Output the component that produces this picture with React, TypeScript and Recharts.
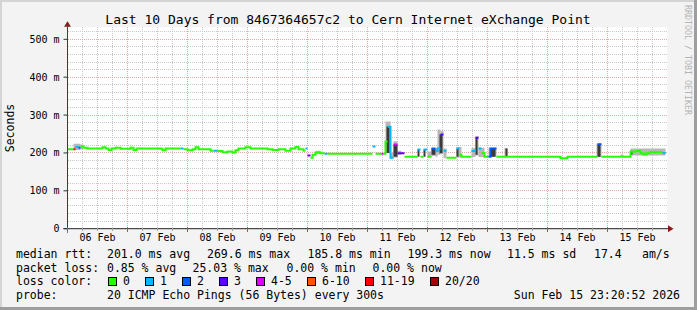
import React from 'react';
import { ComposedChart, Line, Area, XAxis, YAxis, ReferenceLine, CartesianGrid } from 'recharts';

// ---- data (time in hours since Feb 06 00:00, values in ms) ----
// [hour, median rtt ms, loss class index]
const medianRows: number[][] = [
  [0, 210, 0], [2.4, 210, 6], [3.2, 216, 1], [4.4, 214, 2], [5.2, 217, 0], [6.4, 214, 0],
  [8, 212, 0], [14, 215, 0], [15.2, 212, 0], [16.4, 208, 0], [17.6, 212, 0], [19.2, 214, 0],
  [21.2, 211, 0], [25.2, 214, 0], [26.4, 208, 0], [27.6, 212, 0], [37.2, 211, 0], [38, 207, 0],
  [39.2, 212, 0], [45.2, 212, 1], [46.4, 210, 0], [48, 207, 0], [50, 210, 0], [51.2, 215, 0],
  [52.4, 210, 0], [57.2, 206, 0], [58.4, 206, 1], [60, 205, 0], [62, 202, 0], [64, 204, 0],
  [66, 201, 0], [67.2, 207, 0], [68.4, 212, 0], [71.2, 215, 0], [73.2, 212, 0], [80, 210, 0],
  [82, 208, 0], [84.4, 210, 0], [87.2, 206, 0], [89.2, 212, 0], [91.2, 216, 0], [92.4, 210, 0],
  [94.4, 206, 0], [95.2, 212, 1], [96, 193, 3], [97.2, 187, 0], [98, 195, 0], [99.2, 201, 0],
  [101.2, 199, 0], [102.8, 198, 1], [104, 198, 0], [122, 217, 1], [123.2, 198, 0], [125.6, 198, 4],
  [126.4, 198, 0], [127.2, 230, 0], [128, 269, 1], [129.2, 187, 1], [130.4, 222, 4], [132, 199, 3],
  [133.6, 199, 3], [134.8, 190, 0], [140, 209, 1], [141.2, 190, 0], [142.4, 209, 1], [144, 190, 0],
  [145.6, 211, 2], [147.2, 205, 1], [148, 212, 1], [149.2, 249, 3], [150.4, 206, 1], [151.6, 187, 0],
  [155.6, 212, 1], [156.8, 195, 0], [157.6, 190, 0], [161.6, 205, 1], [163.2, 240, 3], [164.4, 212, 1],
  [165.6, 200, 0], [166.8, 190, 0], [168.4, 190, 2], [169.2, 212, 2], [171.6, 190, 0], [197.2, 186, 0],
  [200, 190, 0], [212, 223, 2], [213.6, 190, 0], [225.2, 203, 0], [227.2, 205, 0], [229.2, 199, 0],
  [230.4, 196, 0], [231.6, 199, 0], [232.8, 202, 0], [238, 200, 1], [239.2, 200, 0],
];
const END_HOUR = 239.35;

// smoke (ping spread): [hour start, hour end, low ms, high ms]
const smokeRows: number[][] = [
  [2.4, 5.2, 208, 224], [5.2, 6.4, 210, 222], [99.2, 101.2, 197, 206], [127.2, 129.2, 200, 283],
  [129.2, 130.4, 186, 200], [130.4, 132, 188, 231], [132, 133.6, 195, 206], [144, 145.6, 189, 204],
  [145.6, 147.2, 192, 215], [147.2, 148, 190, 213], [148, 149.2, 195, 262], [149.2, 150.4, 198, 258],
  [150.4, 151.6, 186, 212], [155.6, 157.6, 188, 216], [161.6, 163.2, 189, 213], [163.2, 164.4, 193, 244],
  [164.4, 166.8, 189, 214], [168.4, 171.6, 190, 214], [174.8, 176, 189, 213], [211.6, 213.6, 189, 225],
  [221.2, 222.4, 189, 196], [225.2, 239.2, 193, 212],
];
const coreRows: number[][] = [
  [127.6, 128.8, 200, 270], [130.4, 132, 190, 222], [140, 140.8, 190, 209], [142.4, 143.2, 190, 209],
  [145.6, 147.2, 195, 211], [148.8, 150, 199, 249], [155.6, 156.4, 190, 212], [163.2, 164, 195, 240],
  [169.2, 171.2, 190, 212], [175.2, 176, 190, 212], [212, 213.2, 190, 222], [225.2, 226, 196, 206],
];

const lossLabels = ['0', '1', '2', '3', '4-5', '6-10', '11-19', '20/20'];
const lossColors = ['#26ff00', '#00b8ff', '#0059ff', '#5e00ff', '#dd00ff', '#ff5500', '#ff0000', '#a10000'];
const lossBoxX = [108, 145, 182, 219, 256, 307, 365, 430];

const dayLabels = ['06 Feb', '07 Feb', '08 Feb', '09 Feb', '10 Feb', '11 Feb', '12 Feb', '13 Feb', '14 Feb', '15 Feb'];
const dayNoonHours = [12, 36, 60, 84, 108, 132, 156, 180, 204, 228];
const yTicks = [0, 100, 200, 300, 400, 500];
const Y_MAX = 531.7;

const statsRow1: [string, number][] = [
  ['median rtt:', 16], ['201.0 ms avg', 107], ['269.6 ms max', 207], ['185.8 ms min', 307.5],
  ['199.3 ms now', 407.5], ['11.5 ms sd', 507], ['17.4', 594], ['am/s', 642],
];
const statsRow2: [string, number][] = [
  ['packet loss:', 16], ['0.85 % avg', 107], ['25.03 % max', 192.5], ['0.00 % min', 286.5], ['0.00 % now', 372.5],
];

const FONT = '"DejaVu Sans Mono", monospace';

// grid values
const xMinor: number[] = [];
const xMajor: number[] = [];
for (let h = 6; h < 240; h += 6) (h % 24 === 0 ? xMajor : xMinor).push(h);
const yMinor: number[] = [];
const yMajor: number[] = [];
for (let v = 20; v <= 520; v += 20) (v % 100 === 0 ? yMajor : yMinor).push(v);

function buildClassLine(c: number) {
  const pts: { t: number; v: number | null }[] = [];
  for (let i = 0; i < medianRows.length; i++) {
    const [t, m, l] = medianRows[i];
    if (l !== c) continue;
    const tEnd = i + 1 < medianRows.length ? medianRows[i + 1][0] : END_HOUR;
    const prevSame = i > 0 && medianRows[i - 1][2] === c;
    if (!prevSame && pts.length > 0) pts.push({ t, v: null });
    pts.push({ t, v: m });
    pts.push({ t: tEnd, v: m });
  }
  return pts;
}

function bandData(r: number[]) {
  return [
    { t: r[0], r: [r[2], r[3]] },
    { t: r[1], r: [r[2], r[3]] },
  ];
}

function XTick(props: any) {
  const { x, y, payload } = props;
  const v = payload.value as number;
  const major = v % 24 === 0;
  const idx = dayNoonHours.indexOf(v);
  return (
    <g>
      <line x1={x} x2={x} y1={y - (major ? 2 : 1)} y2={y + (major ? 3 : 2)} stroke={major ? '#c04848' : '#a0a0a0'} shapeRendering="crispEdges" />
      {idx >= 0 && (
        <text x={x} y={y + 12.5} textAnchor="middle" fontSize={10} fontFamily={FONT} fill="#000">
          {dayLabels[idx]}
        </text>
      )}
    </g>
  );
}

export default function App() {
  const xTickVals = [0, ...xMinor, ...xMajor].sort((a, b) => a - b);
  return (
    <div style={{ position: 'absolute', left: 0, top: 0, width: 697, height: 310, background: '#f3f3f3', overflow: 'hidden' }}>
      <ComposedChart width={697} height={310} margin={{ top: 27.3, right: 29.5, left: 0.5, bottom: 0 }}>
        <CartesianGrid
          fill="#ffffff"
          stroke="#c8c8c8"
          strokeDasharray="1 1"
          horizontalValues={yMinor}
          verticalValues={xMinor}
          shapeRendering="crispEdges"
        />
        <CartesianGrid
          stroke="#e8a8a8"
          strokeDasharray="1 1"
          horizontalValues={yMajor}
          verticalValues={xMajor}
          shapeRendering="crispEdges"
        />
        <XAxis
          dataKey="t"
          type="number"
          domain={[0, 240]}
          allowDataOverflow
          ticks={xTickVals}
          interval={0}
          tick={<XTick />}
          tickLine={false}
          axisLine={false}
          tickSize={0}
          tickMargin={0}
          height={81.3}
        />
        <YAxis
          type="number"
          domain={[0, Y_MAX]}
          allowDataOverflow
          ticks={yTicks}
          interval={0}
          width={67}
          tickSize={4}
          tickMargin={4}
          axisLine={false}
          tickLine={{ stroke: '#333' }}
          tick={{ fontSize: 10, fontFamily: FONT, fill: '#000' }}
          tickFormatter={(v: number) => (v === 0 ? '0' : `${v} m`)}
        />
        {smokeRows.map((r, i) => (
          <Area
            key={'s' + i}
            data={bandData(r)}
            dataKey="r"
            type="linear"
            fill="#b8b8b8"
            fillOpacity={1}
            stroke="none"
            dot={false}
            activeDot={false}
            isAnimationActive={false}
          />
        ))}
        {coreRows.map((r, i) => (
          <Area
            key={'c' + i}
            data={bandData(r)}
            dataKey="r"
            type="linear"
            fill="#3a3a3a"
            fillOpacity={1}
            stroke="none"
            dot={false}
            activeDot={false}
            isAnimationActive={false}
          />
        ))}
        {lossColors.map((col, c) => (
          <Line
            key={'l' + c}
            data={buildClassLine(c)}
            dataKey="v"
            type="linear"
            stroke={col}
            strokeWidth={2}
            dot={false}
            activeDot={false}
            connectNulls={false}
            isAnimationActive={false}
          />
        ))}
        <ReferenceLine
          y={0}
          ifOverflow="visible"
          shape={(p: any) => (
            <g>
              <line x1={p.x1 - 4} y1={p.y1} x2={p.x2 + 1} y2={p.y1} stroke="#222" strokeWidth={1} />
              <polygon points={`${p.x2 + 0.5},${p.y1 - 3.5} ${p.x2 + 6},${p.y1} ${p.x2 + 0.5},${p.y1 + 3.5}`} fill="#8b1a1a" />
            </g>
          )}
        />
        <ReferenceLine
          x={0}
          ifOverflow="visible"
          shape={(p: any) => {
            const top = Math.min(p.y1, p.y2);
            const bot = Math.max(p.y1, p.y2);
            return (
              <g>
                <line x1={p.x1} y1={bot + 4} x2={p.x1} y2={top - 1} stroke="#6a2a2a" strokeWidth={1} />
                <polygon points={`${p.x1 - 3.5},${top - 0.5} ${p.x1},${top - 6} ${p.x1 + 3.5},${top - 0.5}`} fill="#8b1a1a" />
              </g>
            );
          }}
        />
      </ComposedChart>
      <svg width={697} height={310} style={{ position: 'absolute', left: 0, top: 0, pointerEvents: 'none' }}>
        <rect x={0} y={0} width={697} height={2} fill="#d4d4d4" />
        <rect x={0} y={0} width={2} height={310} fill="#d4d4d4" />
        <rect x={694} y={0} width={3} height={310} fill="#9e9e9e" />
        <rect x={0} y={307} width={697} height={3} fill="#9e9e9e" />
        <text x={348} y={24} textAnchor="middle" fontSize={13} fontFamily={FONT} fill="#000">
          Last 10 Days from 8467364657c2 to Cern Internet eXchange Point
        </text>
        <text transform="translate(14,128) rotate(-90)" textAnchor="middle" fontSize={11.5} fontFamily={FONT} fill="#000">
          Seconds
        </text>
        <text transform="translate(685,5) rotate(90)" fontSize={8.3} fontFamily={FONT} fill="#b4b4b4">
          RRDTOOL / TOBI OETIKER
        </text>
        {statsRow1.map(([s, x], i) => (
          <text key={'r1' + i} x={x} y={258} fontSize={11.5} fontFamily={FONT} fill="#000">{s}</text>
        ))}
        {statsRow2.map(([s, x], i) => (
          <text key={'r2' + i} x={x} y={271.7} fontSize={11.5} fontFamily={FONT} fill="#000">{s}</text>
        ))}
        <text x={16} y={285.3} fontSize={11.5} fontFamily={FONT} fill="#000">loss color:</text>
        {lossColors.map((col, i) => (
          <g key={'lg' + i}>
            <rect x={lossBoxX[i] + 0.5} y={277.5} width={8} height={8} fill={col} stroke="#000" strokeWidth={1} />
            <text x={lossBoxX[i] + 15} y={285.3} fontSize={11.5} fontFamily={FONT} fill="#000">{lossLabels[i]}</text>
          </g>
        ))}
        <text x={16} y={299} fontSize={11.5} fontFamily={FONT} fill="#000">probe:</text>
        <text x={107} y={299} fontSize={11.5} fontFamily={FONT} fill="#000">20 ICMP Echo Pings (56 Bytes) every 300s</text>
        <text x={680} y={299} textAnchor="end" fontSize={11.5} fontFamily={FONT} fill="#000">Sun Feb 15 23:20:52 2026</text>
      </svg>
    </div>
  );
}
